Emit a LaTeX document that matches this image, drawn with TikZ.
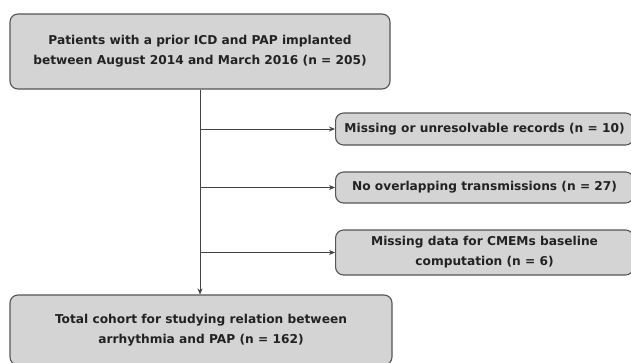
\documentclass[tikz,border=0pt]{standalone}
\usepackage{fontspec}
\setmainfont{DejaVu Sans}
\usetikzlibrary{arrows.meta}
\definecolor{boxfill}{HTML}{D4D4D4}
\definecolor{boxline}{HTML}{555555}
\definecolor{txt}{HTML}{222222}
\definecolor{conn}{HTML}{444444}
\begin{document}
\begin{tikzpicture}[x=1pt,y=-1pt,
  flowbox/.style={draw=boxline, line width=1.1pt, fill=boxfill, rounded corners=8pt,
    align=center, inner sep=0pt, text=txt,
    font=\fontsize{12.2}{20}\selectfont\bfseries},
  conline/.style={draw=conn, line width=0.9pt},
  conarrow/.style={conline, -{Stealth[length=6pt,width=5pt]}}]
\useasboundingbox[fill=white] (0,0) rectangle (631,362);
\begin{scope}
\clip (0,0) rectangle (631,362);
\node[flowbox, minimum width=380pt, minimum height=75pt] (top) at (200,51.5)
  {Patients with a prior ICD and PAP implanted\\between August 2014 and March 2016 (n = 205)};
\node[flowbox, minimum width=382pt, minimum height=70pt] (bottom) at (201,330)
  {Total cohort for studying relation between\\arrhythmia and PAP (n = 162)};
\node[flowbox, minimum width=298pt, minimum height=32pt, anchor=west] (ex1) at (335,129)
  {Missing or unresolvable records (n = 10)};
\node[flowbox, minimum width=298pt, minimum height=31pt, anchor=west] (ex2) at (335,187.5)
  {No overlapping transmissions (n = 27)};
\node[flowbox, minimum width=298pt, minimum height=45pt, anchor=west] (ex3) at (335,252.5)
  {Missing data for CMEMs baseline\\computation (n = 6)};
\coordinate (j1) at (top.south |- ex1.west);
\coordinate (j2) at (top.south |- ex2.west);
\coordinate (j3) at (top.south |- ex3.west);
\draw[conarrow] (top.south) -- (top.south |- bottom.north);
\draw[conarrow] (j1) -- (ex1.west);
\draw[conarrow] (j2) -- (ex2.west);
\draw[conarrow] (j3) -- (ex3.west);
\end{scope}
\end{tikzpicture}
\end{document}
